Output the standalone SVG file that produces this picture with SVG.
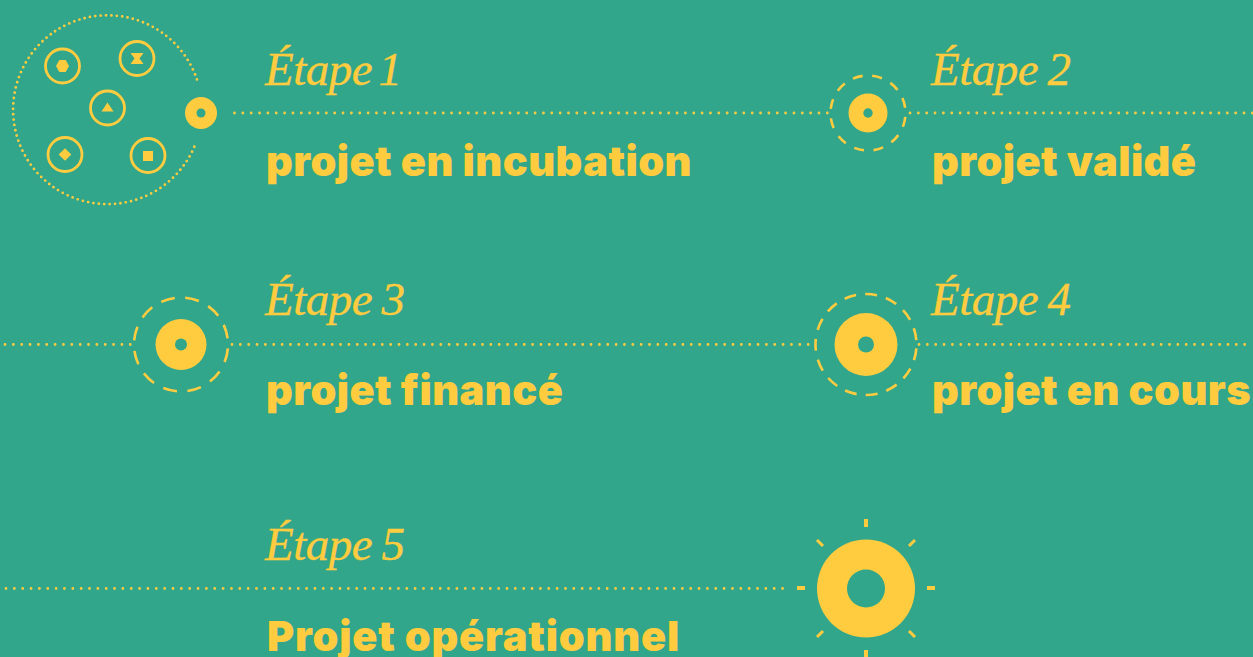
<svg xmlns="http://www.w3.org/2000/svg" width="1253" height="657" viewBox="0 0 1253 657">
<style>
.y{fill:#ffcc40}
.ring{fill:none;stroke:#ffcc40;stroke-width:2.800}
.dot{fill:none;stroke:#ffcc40;stroke-width:2.800;stroke-linecap:round;stroke-dasharray:0 8.350}
.dash{fill:none;stroke:#ffcc40;stroke-width:2.600}
.hole{fill:#31a68a}
.e{font-family:"Liberation Serif",serif;font-style:italic;font-size:47px;fill:#ffcc40;stroke:#ffcc40;stroke-width:.35;word-spacing:-2px;letter-spacing:-.5px}
.b{font-family:Inter,"Liberation Sans",sans-serif;font-weight:900;font-size:41.500px;fill:#ffcc40;letter-spacing:.45px}
</style>
<rect width="1253" height="657" fill="#31a68a"/>
<g id="connectors">
<path class="dot" d="M234.500 113H829"/>
<path class="dot" d="M910 113H1253"/>
<path class="dot" d="M5 344.500H133"/>
<path class="dot" d="M232 344.500H815"/>
<path class="dot" d="M919 344.500H1253"/>
<path class="dot" d="M6 588.500H787"/>
</g>
<g id="incubation">
<path d="M196.900 79.400A94.400 94.400 0 1 0 195.100 144.900" fill="none" stroke="#ffcc40" stroke-width="2.800" stroke-linecap="round" stroke-dasharray="0 5.400"/>
<circle class="ring" cx="62.500" cy="66" r="17"/>
<path class="y" d="M56 66l3.300-6h6.400l3.300 6-3.300 6h-6.400z"/>
<circle class="ring" cx="137" cy="58.500" r="17"/>
<path class="y" d="M130.500 53h13l-4 5.500 4 5.500h-13l4-5.500z"/>
<circle class="ring" cx="107.500" cy="108" r="17"/>
<path class="y" d="M101.500 111.500l6-9 6 9z"/>
<circle class="ring" cx="65" cy="154.500" r="17"/>
<path class="y" d="M65 148.300l6.300 6.200-6.300 6.200-6.300-6.200z"/>
<circle class="ring" cx="148" cy="155.500" r="17"/>
<rect class="y" x="143" y="151" width="10" height="10"/>
<circle class="y" cx="201" cy="113" r="16"/>
<circle class="hole" cx="201" cy="113" r="4.500"/>
</g>
<g id="etape1">
<text class="e" x="265" y="85" style="word-spacing:-5px">Étape 1</text>
<text class="b" x="266" y="176">projet en incubation</text>
</g>
<g id="etape2">
<circle class="dash" cx="868" cy="113" r="37.500" stroke-dasharray="10 9.630" stroke-dashoffset="-4"/>
<circle class="y" cx="868" cy="113" r="19.500"/>
<circle class="hole" cx="868" cy="113" r="4.700"/>
<text class="e" x="931" y="85">Étape 2</text>
<text class="b" x="932" y="176">projet validé</text>
</g>
<g id="etape3">
<circle class="dash" cx="181" cy="344.500" r="47" stroke-dasharray="14 10.600" stroke-dashoffset="-4"/>
<circle class="y" cx="181" cy="344.500" r="25.500"/>
<circle class="hole" cx="181" cy="344.500" r="6"/>
<text class="e" x="265" y="315">Étape 3</text>
<text class="b" x="266" y="405">projet financé</text>
</g>
<g id="etape4">
<circle class="dash" cx="866" cy="344.500" r="50.500" stroke-dasharray="12 9.160" stroke-dashoffset="-4"/>
<circle class="y" cx="866" cy="344.500" r="31.500"/>
<circle class="hole" cx="866" cy="344.500" r="8"/>
<text class="e" x="931" y="315">Étape 4</text>
<text class="b" x="932" y="405">projet en cours</text>
</g>
<g id="etape5">
<circle class="y" cx="866" cy="588.500" r="49"/>
<circle class="hole" cx="866" cy="588.500" r="19"/>
<g class="y">
<rect x="864" y="519" width="4" height="8"/>
<rect x="864" y="650" width="4" height="8"/>
<rect x="797" y="586" width="8" height="4"/>
<rect x="927" y="586" width="8" height="4"/>
</g>
<path d="M817 540l6 6M915 540l-6 6M817 637l6-6M915 637l-6-6" fill="none" stroke="#ffcc40" stroke-width="3"/>
<text class="e" x="265" y="560">Étape 5</text>
<text class="b" x="267" y="651" style="letter-spacing:.8px">Projet opérationnel</text>
</g>
</svg>
